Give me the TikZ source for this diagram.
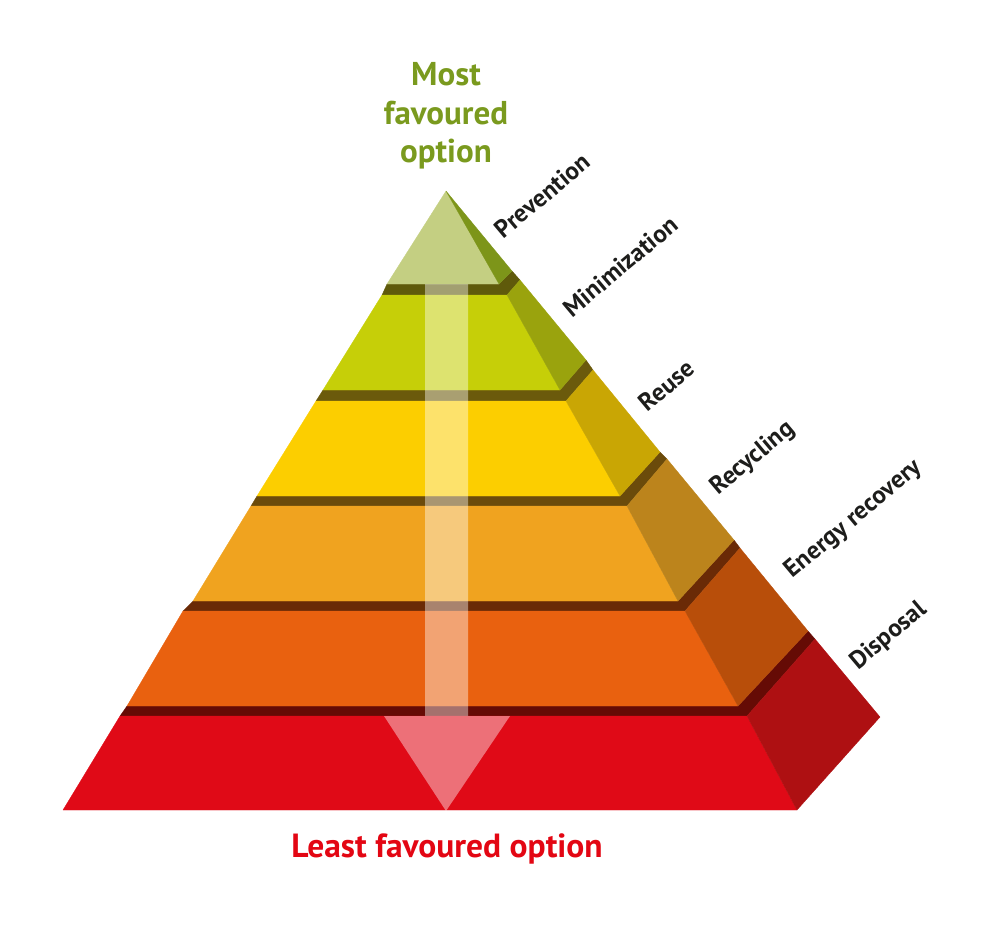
\documentclass[tikz,border=0pt]{standalone}
\usepackage{fontspec}
\setmainfont{PT Sans}
\definecolor{fa}{HTML}{C4CF82}
\definecolor{sa}{HTML}{7D9519}
\definecolor{fb}{HTML}{C6CF08}
\definecolor{sb}{HTML}{9AA30D}
\definecolor{tb}{HTML}{5F5A0B}
\definecolor{fc}{HTML}{FCCE00}
\definecolor{sc}{HTML}{C9A604}
\definecolor{tc}{HTML}{6B5A0C}
\definecolor{fd}{HTML}{F0A31F}
\definecolor{sd}{HTML}{BC841C}
\definecolor{td}{HTML}{6B4B0B}
\definecolor{fe}{HTML}{E9610F}
\definecolor{se}{HTML}{B84E0A}
\definecolor{te}{HTML}{6A2A06}
\definecolor{ff}{HTML}{E00A17}
\definecolor{sf}{HTML}{AE1012}
\definecolor{tf}{HTML}{650B05}
\definecolor{mostc}{HTML}{7A9A1E}
\definecolor{leastc}{HTML}{E30613}
\definecolor{labelc}{HTML}{1D1D1B}
\begin{document}
\begin{tikzpicture}[x=1pt,y=-1pt,
  face/.style={fill=#1,draw=#1,line width=0.3pt,line join=round},
  lbl/.style={text=labelc,font=\bfseries\fontsize{25}{29}\selectfont,rotate=40,anchor=base,inner sep=0pt},
  head/.style={font=\bfseries\fontsize{33}{38}\selectfont,anchor=base,inner sep=0pt},
  band/.style={fill=white,fill opacity=0.42}]
\useasboundingbox (0,0) rectangle (1000,924);
% layer 6 (bottom)
\coordinate (TL6) at (120,716); \coordinate (TR6) at (747,716);
\coordinate (BL6) at (63,810);  \coordinate (BR6) at (797,810);
\coordinate (BT6) at (815,639); \coordinate (BB6) at (880,717);
% layer 5
\coordinate (TL5) at (183,611); \coordinate (TR5) at (685,611);
\coordinate (BL5) at (127,706); \coordinate (BR5) at (738,706);
\coordinate (BT5) at (740,548); \coordinate (BB5) at (808,631);
% layer 4
\coordinate (TL4) at (251,506); \coordinate (TR4) at (627,506);
\coordinate (BL4) at (193,601); \coordinate (BR4) at (678,601);
\coordinate (BT4) at (667,459); \coordinate (BB4) at (734,540);
% layer 3
\coordinate (TL3) at (316,401); \coordinate (TR3) at (566,401);
\coordinate (BL3) at (257,496); \coordinate (BR3) at (620,496);
\coordinate (BT3) at (593,370); \coordinate (BB3) at (660,452);
% layer 2
\coordinate (TL2) at (382,295); \coordinate (TR2) at (507,295);
\coordinate (BL2) at (323,390); \coordinate (BR2) at (560,390);
\coordinate (BT2) at (520,280); \coordinate (BB2) at (586,360);
% layer 1 (top)
\coordinate (A1) at (446,191);
\coordinate (BL1) at (387,284); \coordinate (BR1) at (499,284);
\coordinate (BB1) at (512,271);

% bottom layer
\path[face=tf] (TL6) -- (TR6) -- (BT6) -- (BB5) -- (BR5) -- (BL5) -- cycle;
\path[face=ff] (TL6) -- (TR6) -- (BR6) -- (BL6) -- cycle;
\path[face=sf] (TR6) -- (BT6) -- (BB6) -- (BR6) -- cycle;
% layer 5
\path[face=te] (TL5) -- (TR5) -- (BT5) -- (BB4) -- (BR4) -- (BL4) -- cycle;
\path[face=fe] (TL5) -- (TR5) -- (BR5) -- (BL5) -- cycle;
\path[face=se] (TR5) -- (BT5) -- (BB5) -- (BR5) -- cycle;
% layer 4
\path[face=td] (TL4) -- (TR4) -- (BT4) -- (BB3) -- (BR3) -- (BL3) -- cycle;
\path[face=fd] (TL4) -- (TR4) -- (BR4) -- (BL4) -- cycle;
\path[face=sd] (TR4) -- (BT4) -- (BB4) -- (BR4) -- cycle;
% layer 3
\path[face=tc] (TL3) -- (TR3) -- (BT3) -- (BB2) -- (BR2) -- (BL2) -- cycle;
\path[face=fc] (TL3) -- (TR3) -- (BR3) -- (BL3) -- cycle;
\path[face=sc] (TR3) -- (BT3) -- (BB3) -- (BR3) -- cycle;
% layer 2
\path[face=tb] (TL2) -- (TR2) -- (BT2) -- (BB1) -- (BR1) -- (BL1) -- cycle;
\path[face=fb] (TL2) -- (TR2) -- (BR2) -- (BL2) -- cycle;
\path[face=sb] (TR2) -- (BT2) -- (BB2) -- (BR2) -- cycle;
% layer 1
\path[face=fa] (A1) -- (BR1) -- (BL1) -- cycle;
\path[face=sa] (A1) -- (BB1) -- (BR1) -- cycle;

% translucent arrow
\coordinate (arrtip) at (446,811);
\fill[band] (425,284) -- (468,284) -- (468,716) -- (510,716) -- (arrtip) -- (384,716) -- (425,716) -- cycle;

% headings
\node[head,text=mostc] (most1) at (446,85) {Most};
\node[head,text=mostc] (most2) at (446,124) {favoured};
\node[head,text=mostc] (most3) at (446,162) {option};
\node[head,text=leastc,font=\bfseries\fontsize{33.5}{38}\selectfont] (least) at (447,857) {Least favoured option};

% level labels
\node[lbl] (prev)  at (548,202) {Prevention};
\node[lbl] (mini)  at (626,273) {Minimization};
\node[lbl] (reuse) at (672,392) {Reuse};
\node[lbl] (recy)  at (757,463) {Recycling};
\node[lbl] (energy) at (858,524) {Energy recovery};
\node[lbl] (disp)  at (893,641) {Disposal};
\end{tikzpicture}
\end{document}
